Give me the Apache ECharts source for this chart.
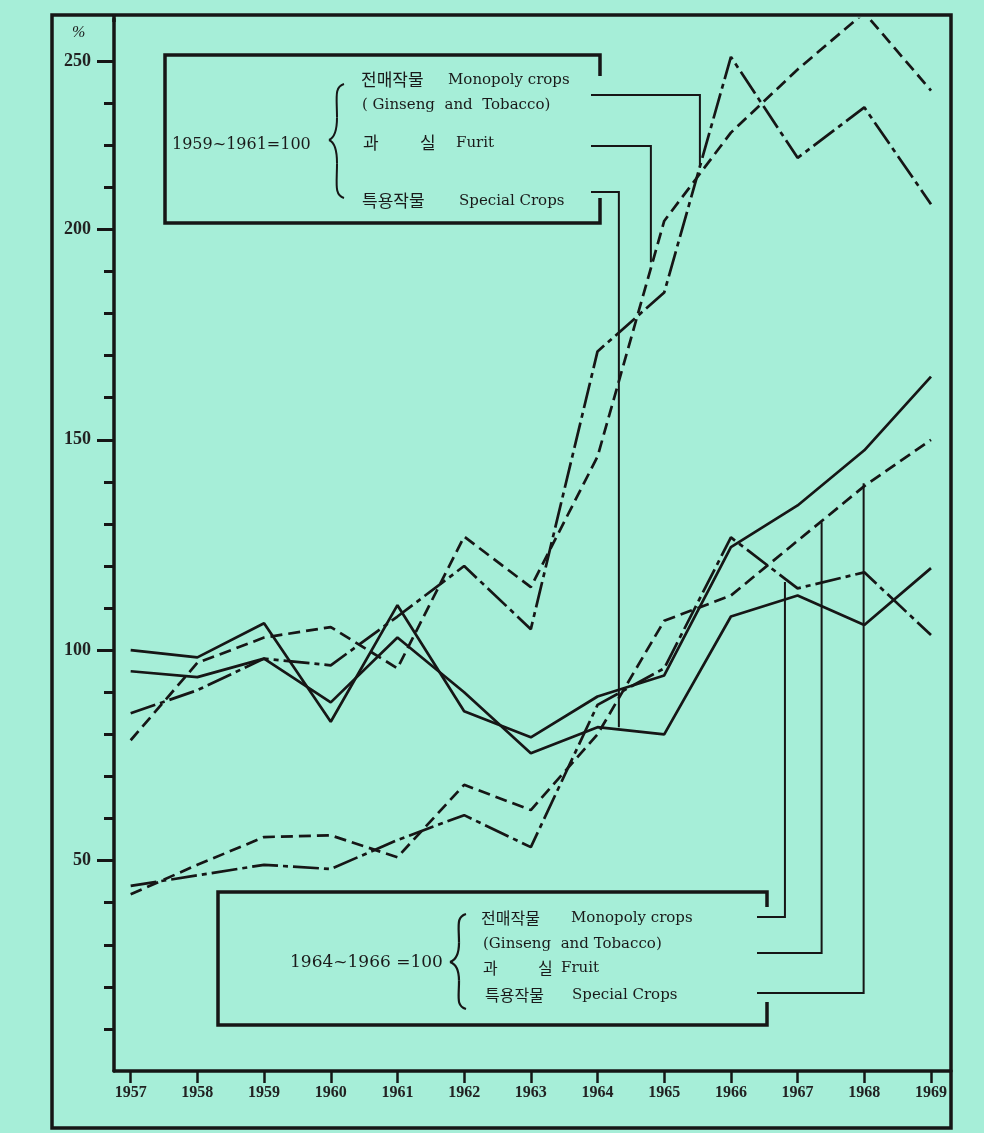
<!DOCTYPE html>
<html><head><meta charset="utf-8">
<script src="https://cdn.jsdelivr.net/npm/echarts@6/dist/echarts.min.js"></script>
<style>html,body{margin:0;padding:0;background:#a6eed8}#c{width:984px;height:1133px}</style>
</head><body><div id="c"></div>
<script>
// ---- data (index numbers) ----
const years = [1957,1958,1959,1960,1961,1962,1963,1964,1965,1966,1967,1968,1969];
// base 1959~1961 = 100
const monopoly5961 = [85, 90.5, 98, 96.4, 108, 120, 105, 171, 185, 241, 217, 229, 206];
const fruit5961    = [78.6, 97, 103, 105.5, 95.7, 127, 115, 146, 202, 223, 238, 251.5, 233];
const special5961  = [95, 93.6, 98, 87.6, 103, 90, 75.5, 81.7, 80, 108, 113, 106, 119.5];
// base 1964~1966 = 100
const monopoly6466 = [44, 46.5, 49, 48, 54.9, 60.8, 53.2, 87, 95.7, 126.8, 114.7, 118.5, 103.6];
const fruit6466    = [42, 49, 55.6, 56, 50.8, 68, 62, 80, 107, 113, 126, 139, 150];
const special6466  = [100, 98.3, 106.4, 83, 110.7, 85.5, 79.3, 89, 94, 124.5, 134.4, 147.5, 165];
// axis ticks as printed (the original prints "250" on the 240 tick)
const yMinorTicks = [10,20,30,40,60,70,80,90,110,120,130,140,160,170,180,190,210,220,230];
const yMajorTicks = [50,100,150,200,240];
const yMajorLabels = ['50','100','150','200','250'];
const xTickLabels = years.map(String);
// leader-line anchor points on the curves, in data coordinates [year, value]
const leaderAnchors5961 = [[1965.535, 214.7],[1964.80, 192.2],[1964.32, 81.7]];
const leaderAnchors6466 = [[1966.81, 116.2],[1967.36, 130.4],[1967.99, 139.7]];

const INK = '#161616';
const chart = echarts.init(document.getElementById('c'), null, {renderer:'canvas'});
const pair = arr => years.map((y,i)=>[y,arr[i]]);
const mk = (name, arr, type) => ({
  name, type:'line', data:pair(arr), symbol:'none', silent:true,
  lineStyle:{color:INK, width:2.7, type}
});
const MONO = [26,5,5,5], DASH = [12,6];

chart.setOption({
  animation:false,
  backgroundColor:'#a6eed8',
  grid:{left:114, right:33, top:19, bottom:62},
  xAxis:{
    type:'value', min:1956.75, max:1969.3,
    axisLine:{lineStyle:{color:INK, width:3.5}},
    axisTick:{customValues:years, length:12, lineStyle:{color:INK, width:2.5}},
    axisLabel:{customValues:years, formatter:v=>xTickLabels[years.indexOf(v)] ?? String(v), margin:14,
      color:'#222', fontFamily:'Liberation Serif', fontWeight:'bold', fontSize:16},
    splitLine:{show:false}
  },
  yAxis:[{
    type:'value', min:0, max:250, position:'left',
    axisLine:{show:true, lineStyle:{color:INK, width:3.5}},
    axisTick:{show:true, customValues:yMajorTicks, length:17, lineStyle:{color:INK, width:3}},
    axisLabel:{customValues:yMajorTicks, formatter:v=>yMajorLabels[yMajorTicks.indexOf(v)] ?? '', margin:23,
      color:'#222', fontFamily:'Liberation Serif', fontWeight:'bold', fontSize:18},
    splitLine:{show:false}
  },{
    type:'value', min:0, max:250, position:'left',
    axisLine:{show:false},
    axisTick:{show:true, customValues:yMinorTicks, length:10, lineStyle:{color:INK, width:3}},
    axisLabel:{show:false}, splitLine:{show:false}
  }],
  series:[
    mk('전매작물 Monopoly crops (1959~1961=100)', monopoly5961, MONO),
    mk('과실 Fruit (1959~1961=100)', fruit5961, DASH),
    mk('특용작물 Special Crops (1959~1961=100)', special5961, 'solid'),
    mk('전매작물 Monopoly crops (1964~1966=100)', monopoly6466, MONO),
    mk('과실 Fruit (1964~1966=100)', fruit6466, DASH),
    mk('특용작물 Special Crops (1964~1966=100)', special6466, 'solid')
  ]
});

// ---- decorations: frame, legend boxes, leaders ----
const px = p => chart.convertToPixel({gridIndex:0}, p);
const serif = (s, w) => `${w||''} ${s}px 'DejaVu Serif','Liberation Serif','Noto Sans CJK KR'`;
const kor = s => `${s}px 'Noto Sans CJK KR'`;
function txt(text, x, y, font){
  return {type:'text', silent:true, z:10,
    style:{text, x, y, font, fill:'#1a1a1a', textAlign:'left', textVerticalAlign:'middle', align:'left', verticalAlign:'middle'}};
}
function pl(points, w){
  return {type:'polyline', silent:true, z:10, shape:{points}, style:{stroke:INK, lineWidth:w||2, fill:null}};
}
function bz(x1,y1,cx1,cy1,cx2,cy2,x2,y2,w){
  return {type:'bezierCurve', silent:true, z:10,
    shape:{x1,y1,x2,y2,cpx1:cx1,cpy1:cy1,cpx2:cx2,cpy2:cy2}, style:{stroke:INK, lineWidth:w||2, fill:null}};
}
function brace(x, top, tip, bot, tipX, w){
  const q1 = top + (tip-top)*0.6, q2 = tip + (bot-tip)*0.4;
  return [
    bz(x,top, x-10,top+3, x-7,top+(q1-top)*0.4, x-7,q1, w),
    bz(x-7,q1, x-7,q1+(tip-q1)*0.6, x-10,tip-2, tipX,tip, w),
    bz(tipX,tip, x-10,tip+2, x-7,q2-(q2-tip)*0.6, x-7,q2, w),
    bz(x-7,q2, x-7,q2+(bot-q2)*0.6, x-10,bot-3, x,bot, w)
  ];
}
const g = [];
// outer frame
g.push({type:'rect', silent:true, z:5, shape:{x:52,y:15,width:899,height:1113}, style:{stroke:INK, lineWidth:3.5, fill:null}});
g.push(pl([[114,15],[114,22]],3.5));
g.push(txt('%', 72, 33, 'italic 16px Liberation Serif'));

// legend box 1
g.push(pl([[600,76],[600,55],[165,55],[165,223],[600,223],[600,198]],3.5));
g.push(txt('1959~1961=100', 172, 145, serif(16)));
brace(344, 84, 140, 198, 329, 2).forEach(e=>g.push(e));
g.push(txt('전매작물', 361, 80, kor(17)));
g.push(txt('Monopoly crops', 448, 80, serif(15)));
g.push(txt('( Ginseng  and  Tobacco)', 362, 105, serif(15)));
g.push(txt('과', 363, 143, kor(17)));
g.push(txt('실', 420, 143, kor(17)));
g.push(txt('Furit', 456, 143, serif(15)));
g.push(txt('특용작물', 362, 201, kor(17)));
g.push(txt('Special Crops', 459, 201, serif(15)));

// legend box 2
g.push(pl([[767,907],[767,892],[218,892],[218,1025],[767,1025],[767,1002]],3.5));
g.push(txt('1964~1966 =100', 290, 963, serif(17)));
brace(466, 914, 962, 1009, 450, 2.2).forEach(e=>g.push(e));
g.push(txt('전매작물', 481, 918, kor(16)));
g.push(txt('Monopoly crops', 571, 918, serif(15)));
g.push(txt('(Ginseng  and Tobacco)', 483, 944, serif(15)));
g.push(txt('과', 483, 968, kor(16)));
g.push(txt('실', 538, 968, kor(16)));
g.push(txt('Fruit', 561, 968, serif(15)));
g.push(txt('특용작물', 485, 995, kor(16)));
g.push(txt('Special Crops', 572, 995, serif(15)));

// leaders: box 1 (start at right edge of box, go right, then down to the curve)
const box1Y = [95, 146, 192];
leaderAnchors5961.forEach((a,i)=>{
  const p = px(a);
  g.push(pl([[591, box1Y[i]],[p[0], box1Y[i]],[p[0], p[1]]], 2));
});
// leaders: box 2 (go right, then up to the curve)
const box2Y = [917, 953, 993];
leaderAnchors6466.forEach((a,i)=>{
  const p = px(a);
  g.push(pl([[757, box2Y[i]],[p[0], box2Y[i]],[p[0], p[1]]], 2));
});
chart.setOption({graphic:{elements:g}});
</script></body></html>
